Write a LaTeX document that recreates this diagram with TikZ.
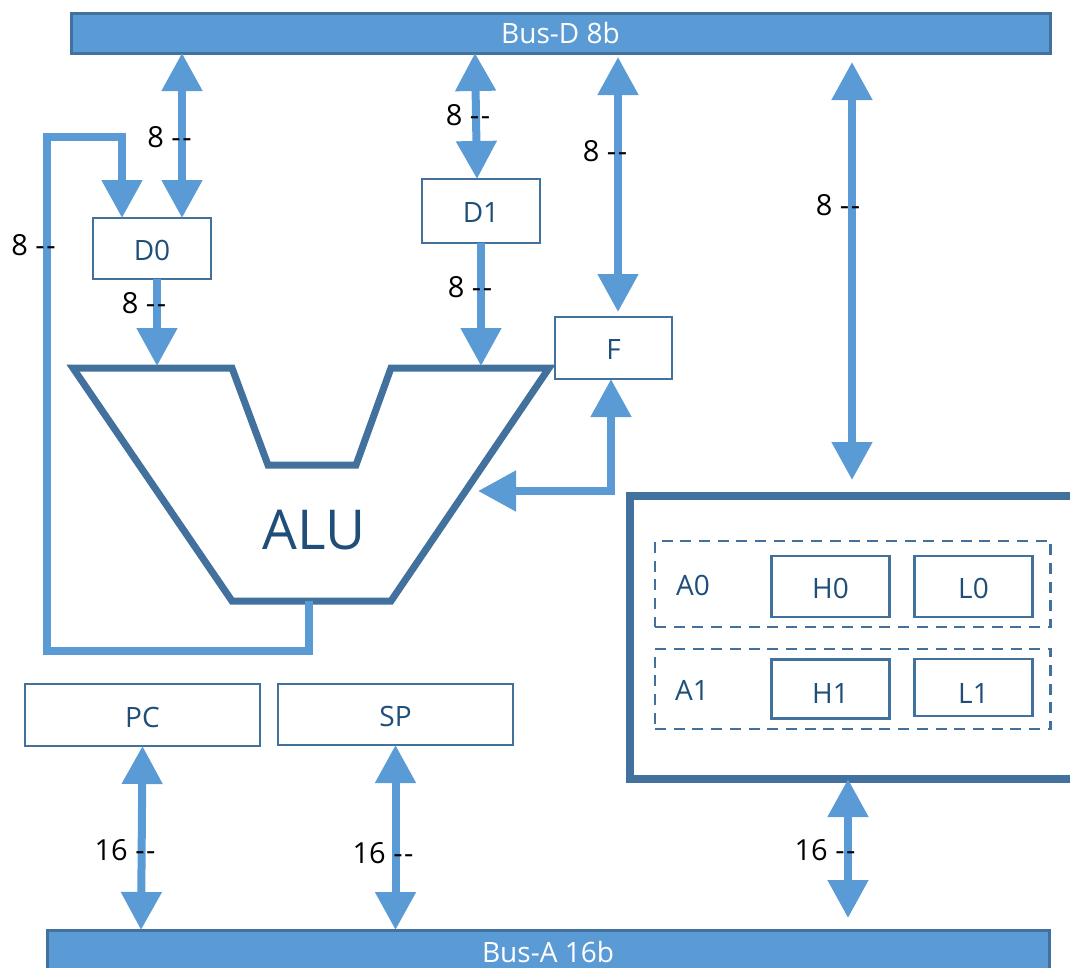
\documentclass[tikz,border=0pt]{standalone}
\usepackage{fontspec}
\setmainfont{Open Sans}
\usetikzlibrary{arrows.meta}
\definecolor{busblue}{HTML}{5B9BD5}
\definecolor{lineblue}{HTML}{41719C}
\definecolor{textblue}{HTML}{1F4E79}
\tikzset{
  regbox/.style={draw=lineblue, line width=2.75pt, fill=white, text=textblue, inner sep=0pt, outer sep=0pt, text height=24pt, text depth=0pt, font=\fontsize{28}{30}\selectfont},
  busbar/.style={draw=lineblue, line width=3pt, fill=busblue, text=white, inner sep=0pt, outer sep=0pt, font=\fontsize{28}{30}\selectfont},
  groupbox/.style={draw=lineblue, line width=2.5pt, dash pattern=on 11pt off 7.7pt, inner sep=0pt, outer sep=0pt},
  grouplabel/.style={text=textblue, inner sep=0pt, font=\fontsize{28}{30}\selectfont},
  ticklabel/.style={text=black, inner sep=0pt, font=\fontsize{29}{30}\selectfont},
  busarrow/.style={draw=busblue, line width=8pt, {Triangle[length=38pt,width=39pt]}-{Triangle[length=38pt,width=39pt]}},
  inarrow/.style={draw=busblue, line width=8pt, -{Triangle[length=38pt,width=39pt]}},
}
\newcommand{\wiretick}{-\kern1.5pt-}
\begin{document}
\begin{tikzpicture}[x=1pt,y=-1pt]
\useasboundingbox (0,0) rectangle (1070,967);
% buses
\node[busbar, minimum width=979pt, minimum height=40pt] (busd) at (560.5,33) {Bus-D 8b};
\node[busbar, minimum width=1002pt, minimum height=44pt] (busa) at (548,952) {Bus-A 16b};
% registers
\node[regbox, minimum width=118pt, minimum height=61pt] (d0) at (152,248.5) {D0};
\node[regbox, text height=22pt, minimum width=118pt, minimum height=64pt] (d1) at (481,211) {D1};
\node[regbox, text height=22pt, minimum width=117pt, minimum height=62pt] (f) at (613.5,348) {F};
\node[regbox, minimum width=235pt, minimum height=62pt] (pc) at (142.5,715) {PC};
\node[regbox, minimum width=235pt, minimum height=61pt] (sp) at (395.5,714.5) {SP};
% register file
\node[draw=lineblue, line width=8pt, fill=white, inner sep=0pt, outer sep=0pt, minimum width=470pt, minimum height=283.5pt] (regs) at (865,637.25) {};
\node[groupbox, minimum width=395.7pt, minimum height=86.3pt] (a0box) at (852.85,584) {};
\node[groupbox, minimum width=395.7pt, minimum height=80pt] (a1box) at (852.85,689) {};
\node[grouplabel] (a0) at (693,585) {A0};
\node[grouplabel] (a1) at (692,690) {A1};
\node[regbox, minimum width=117.5pt, minimum height=61pt] (h0) at (830.5,586.5) {H0};
\node[regbox, minimum width=118pt, minimum height=61pt] (l0) at (973.5,586.5) {L0};
\node[regbox, text height=28pt, minimum width=117.5pt, minimum height=59pt] (h1) at (830.5,689) {H1};
\node[regbox, text height=31pt, minimum width=118pt, minimum height=57pt] (l1) at (973.5,687.5) {L1};
% ALU
\draw[draw=lineblue, line width=7pt, fill=white] (73,368) -- (232,368) -- (268,465) -- (356,465) -- (391,368) -- (549,368) -- (391,601) -- (232,601) -- cycle;
\node[text=textblue, inner sep=0pt, font=\fontsize{55}{60}\selectfont] (alu) at (314,530) {ALU};
\coordinate (alua) at (157,366);
\coordinate (alub) at (481,366);
\coordinate (aluout) at (309,601);
\coordinate (alusum) at (478,491);
% connectors
\draw[busarrow] ([xshift=-378.5pt]busd.south) -- ([xshift=30pt]d0.north);
\draw[busarrow] ([xshift=-85.5pt]busd.south) -- ([xshift=-4pt]d1.north);
\draw[busarrow] ([xshift=57.5pt,yshift=-4pt]busd.south) -- ([xshift=4.5pt,yshift=5pt]f.north);
\draw[busarrow] ([xshift=291.5pt,yshift=-9pt]busd.south) -- ([xshift=-13pt,yshift=15.5pt]regs.north);
\draw[inarrow] ([xshift=5pt]d0.south) -- (alua);
\draw[inarrow] (d1.south) -- (alub);
\draw[draw=busblue, line width=8pt, -{Triangle[length=38pt,width=39pt]}] (aluout) -- (309,651) -- (46.5,651) -- (46.5,137) -- (122,137) -- ([xshift=-30pt]d0.north);
\draw[busarrow] (alusum) -- (611,491) -- ([xshift=-2.5pt]f.south);
\draw[busarrow] (pc.south) -- ([xshift=-407pt]busa.north);
\draw[busarrow] (sp.south) -- ([xshift=-152.5pt]busa.north);
\draw[busarrow] ([xshift=-17pt]regs.south) -- ([xshift=300pt,yshift=12pt]busa.north);
% widths
\node[ticklabel] (w1) at (169.5,137) {8 \wiretick};
\node[ticklabel] (w2) at (468,115) {8 \wiretick};
\node[ticklabel] (w3) at (144,303) {8 \wiretick};
\node[ticklabel] (w4) at (470,287) {8 \wiretick};
\node[ticklabel] (w5) at (605,151) {8 \wiretick};
\node[ticklabel] (w6) at (838,205) {8 \wiretick};
\node[ticklabel] (w7) at (33.5,245) {8 \wiretick};
\node[ticklabel] (w8) at (125,850) {16 \wiretick};
\node[ticklabel] (w9) at (383,853) {16 \wiretick};
\node[ticklabel] (w10) at (825,850) {16 \wiretick};
\end{tikzpicture}
\end{document}
